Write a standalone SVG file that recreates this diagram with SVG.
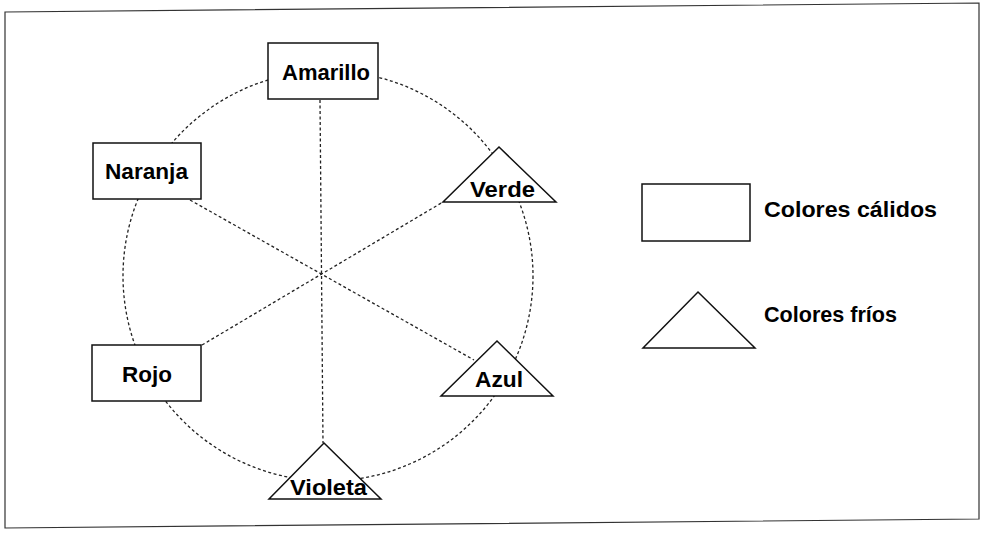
<svg xmlns="http://www.w3.org/2000/svg" width="984" height="541" viewBox="0 0 984 541">
<style>
.frame{fill:none;stroke:#333;stroke-width:1.2}
.shape{fill:#fff;stroke:#111;stroke-width:1.5}
.dot{fill:none;stroke:#222;stroke-width:1.3;stroke-dasharray:3 2.5}
.lbl{font-family:"Liberation Sans",Arial,sans-serif;font-weight:bold;font-size:22px;fill:#000}
</style>
<rect width="984" height="541" fill="#fff"/>
<polygon class="frame" points="5,12 979,3 979,519 5,528"/>
<g id="connectors">
<circle class="dot" cx="328" cy="276" r="205"/>
<line class="dot" x1="320" y1="100" x2="323" y2="443"/>
<line class="dot" x1="190" y1="200" x2="474" y2="360"/>
<line class="dot" x1="202" y1="345" x2="443" y2="202"/>
</g>
<g id="amarillo">
<rect class="shape" x="268" y="43" width="110" height="56"/>
<text class="lbl" x="282" y="80" textLength="88" lengthAdjust="spacingAndGlyphs">Amarillo</text>
</g>
<g id="naranja">
<rect class="shape" x="93" y="143" width="108" height="56"/>
<text class="lbl" x="105" y="179" textLength="83" lengthAdjust="spacingAndGlyphs">Naranja</text>
</g>
<g id="rojo">
<rect class="shape" x="92" y="345" width="109" height="56"/>
<text class="lbl" x="122" y="382" textLength="50" lengthAdjust="spacingAndGlyphs">Rojo</text>
</g>
<g id="verde">
<polygon class="shape" points="499,147 556,202 443,202"/>
<text class="lbl" x="470" y="197" textLength="65" lengthAdjust="spacingAndGlyphs">Verde</text>
</g>
<g id="azul">
<polygon class="shape" points="497,341 553,396 441,396"/>
<text class="lbl" x="475" y="387" textLength="48" lengthAdjust="spacingAndGlyphs">Azul</text>
</g>
<g id="violeta">
<polygon class="shape" points="324,443 381,499 269,499"/>
<text class="lbl" x="290" y="495" textLength="77" lengthAdjust="spacingAndGlyphs">Violeta</text>
</g>
<g id="legend-calidos">
<rect class="shape" x="642" y="184" width="108" height="57"/>
<text class="lbl" x="764" y="217" textLength="173" lengthAdjust="spacingAndGlyphs">Colores cálidos</text>
</g>
<g id="legend-frios">
<polygon class="shape" points="698,292 755,348 643,348"/>
<text class="lbl" x="764" y="322" textLength="133" lengthAdjust="spacingAndGlyphs">Colores fríos</text>
</g>
</svg>
